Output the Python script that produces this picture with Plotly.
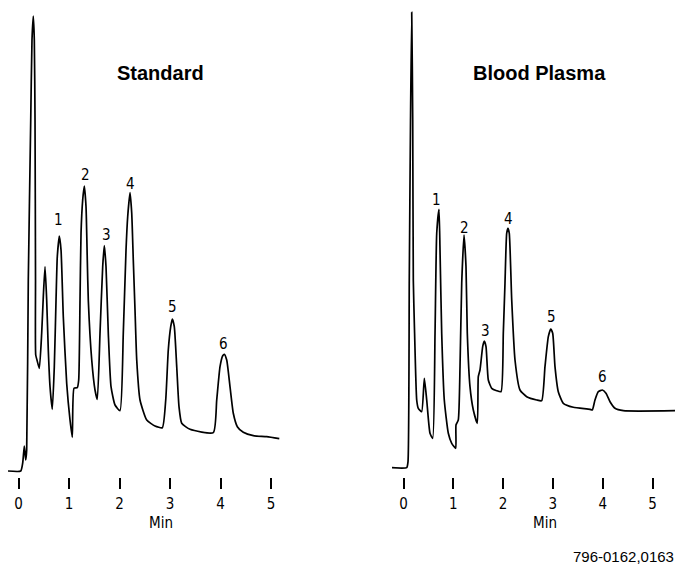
import plotly.graph_objects as go

# ---- data (time in min, detector signal in arbitrary units) ----
std_time = [-0.208, 0.044, 0.083, 0.115, 0.143, 0.162, 0.194, 0.242, 0.267, 0.293,
            0.313, 0.327, 0.337, 0.341, 0.366, 0.412, 0.459, 0.491, 0.525, 0.558,
            0.590, 0.624, 0.669, 0.709, 0.743, 0.768, 0.808, 0.842, 0.887, 0.954,
            1.020, 1.065, 1.099, 1.164, 1.192, 1.218, 1.238, 1.271, 1.303, 1.337,
            1.362, 1.382, 1.450, 1.515, 1.560, 1.614, 1.667, 1.699, 1.733, 1.778,
            1.832, 1.911, 2.010, 2.075, 2.129, 2.162, 2.208, 2.242, 2.273, 2.307,
            2.341, 2.406, 2.539, 2.703, 2.848, 2.915, 2.966, 3.014, 3.046, 3.085,
            3.133, 3.178, 3.232, 3.396, 3.857, 3.925, 3.990, 4.044, 4.075, 4.123,
            4.188, 4.253, 4.333, 4.451, 4.650, 4.915, 5.164]
std_signal = [0, 0, 8, 25, 11, 21, 191, 351, 431, 455,
              431, 351, 191, 116, 111, 102.7, 137.7, 174.3, 204.3, 171,
              121, 84.3, 61.7, 104.3, 171, 214.3, 235, 221, 154.3, 87.7,
              51, 33.7, 82.7, 83.3, 91, 171, 238, 271, 285, 264.3,
              211, 171, 111, 81, 71.7, 138, 204.3, 225.3, 204.3, 137.7,
              84.3, 66, 60.3, 137.7, 221, 254.3, 278.3, 257.7, 211, 161,
              111, 71, 51, 45, 43.3, 71, 121, 144.3, 152, 144.3,
              104.3, 64.3, 47.7, 41.7, 38.3, 71, 104.3, 115.3, 116.7, 111,
              84.3, 57.7, 44.3, 38.7, 35.3, 34.3, 32.3]

plasma_time = [-0.237, 0.064, 0.090, 0.116, 0.141, 0.165, 0.185, 0.197, 0.221, 0.265,
               0.297, 0.365, 0.418, 0.466, 0.532, 0.586, 0.633, 0.667, 0.713, 0.733,
               0.767, 0.819, 0.900, 0.968, 1.048, 1.054, 1.100, 1.135, 1.169, 1.215,
               1.255, 1.281, 1.335, 1.402, 1.482, 1.502, 1.536, 1.590, 1.622, 1.657,
               1.703, 1.771, 1.871, 1.958, 2.004, 2.038, 2.072, 2.098, 2.124, 2.173,
               2.239, 2.339, 2.474, 2.675, 2.775, 2.841, 2.908, 2.956, 2.996, 3.042,
               3.108, 3.209, 3.410, 3.745, 3.791, 3.845, 3.912, 3.992, 4.066, 4.147,
               4.247, 4.414, 5.452]
plasma_signal = [0, 0, 5.7, 187.7, 347.7, 455.4, 347.7, 187.7, 137.7, 67.7,
                 59.4, 56, 89.4, 67.7, 34.4, 29.4, 134.4, 234.4, 258.4, 217.7,
                 134.4, 67.7, 34.4, 24.4, 19.4, 42.7, 47.7, 101, 184.4, 232.7,
                 201, 134.4, 81, 57.7, 44.4, 91, 97.7, 121, 126.7, 121,
                 87.7, 79.4, 77, 76, 134.4, 184.4, 234.4, 239.4, 234.4, 167.7,
                 107.7, 77.7, 71, 67.7, 67, 101, 131, 138.7, 134.4, 101,
                 76, 64.4, 60.4, 58.4, 57.7, 67.7, 76, 77.7, 74.4, 66,
                 59.4, 57, 57]

peak_labels = ["1", "2", "3", "4", "5", "6"]
std_label_t = [0.788, 1.317, 1.733, 2.214, 3.053, 4.069]
std_label_s = [251, 296, 236, 287, 164.3, 127]
plasma_label_t = [0.667, 1.215, 1.637, 2.104, 2.968, 3.992]
plasma_label_s = [267.7, 240, 136.7, 248.4, 150.4, 90.4]

tick_vals = [0, 1, 2, 3, 4, 5]
tick_text = ["0", "1", "2", "3", "4", "5"]
panel_titles = ["Standard", "Blood Plasma"]
axis_title = "Min"
footer_text = "796-0162,0163"

W, H = 676, 566
narrow = "Liberation Sans Narrow, DejaVu Sans Condensed, Arial Narrow, sans-serif"
arial = "Liberation Sans, Arial, Helvetica, sans-serif"

fig = go.Figure()
line_style = dict(color="black", width=1.7, shape="spline", smoothing=0.5)
fig.add_trace(go.Scatter(x=std_time, y=std_signal, mode="lines", line=line_style,
                         xaxis="x", yaxis="y", hoverinfo="skip", showlegend=False))
fig.add_trace(go.Scatter(x=plasma_time, y=plasma_signal, mode="lines", line=line_style,
                         xaxis="x2", yaxis="y2", hoverinfo="skip", showlegend=False))

xcommon = dict(showgrid=False, zeroline=False, showline=False, ticks="outside",
               ticklen=11, tickwidth=1.5, tickcolor="black", tickvals=tick_vals,
               ticktext=tick_text, ticklabelstandoff=2,
               tickfont=dict(family=narrow, size=15, color="black"),
               fixedrange=True)
ycommon = dict(visible=False, showgrid=False, zeroline=False, fixedrange=True,
               domain=[1 - 477 / H, 1])

annotations = []
for lab, t, s in zip(peak_labels, std_label_t, std_label_s):
    annotations.append(dict(x=t, y=s, xref="x", yref="y", text=lab, showarrow=False,
                            xanchor="center", yanchor="middle",
                            font=dict(family=narrow, size=15, color="black")))
for lab, t, s in zip(peak_labels, plasma_label_t, plasma_label_s):
    annotations.append(dict(x=t, y=s, xref="x2", yref="y2", text=lab, showarrow=False,
                            xanchor="center", yanchor="middle",
                            font=dict(family=narrow, size=15, color="black")))
annotations.append(dict(x=160 / W, y=1 - 73 / H, xref="paper", yref="paper",
                        text="<b>%s</b>" % panel_titles[0], showarrow=False,
                        xanchor="center", yanchor="middle",
                        font=dict(family=arial, size=20, color="black")))
annotations.append(dict(x=539 / W, y=1 - 73 / H, xref="paper", yref="paper",
                        text="<b>%s</b>" % panel_titles[1], showarrow=False,
                        xanchor="center", yanchor="middle",
                        font=dict(family=arial, size=20, color="black")))
annotations.append(dict(x=2.83, y=1 - 523 / H, xref="x", yref="paper", text=axis_title,
                        showarrow=False, xanchor="center", yanchor="middle",
                        font=dict(family=narrow, size=15, color="black")))
annotations.append(dict(x=2.84, y=1 - 523 / H, xref="x2", yref="paper", text=axis_title,
                        showarrow=False, xanchor="center", yanchor="middle",
                        font=dict(family=narrow, size=15, color="black")))
annotations.append(dict(x=1, y=1 - 556.7 / H, xref="paper", yref="paper",
                        text=footer_text, showarrow=False, xanchor="right",
                        yanchor="middle", font=dict(family=arial, size=15, color="black")))

fig.update_layout(
    width=W, height=H, margin=dict(l=0, r=0, t=0, b=0),
    paper_bgcolor="white", plot_bgcolor="white",
    xaxis=dict(domain=[8 / W, 290 / W], range=[-0.208, 5.376], anchor="y", **xcommon),
    xaxis2=dict(domain=[392 / W, 1], range=[-0.231, 5.472], anchor="y2", **xcommon),
    yaxis=dict(range=[-6, 471], anchor="x", **ycommon),
    yaxis2=dict(range=[-9.3, 467.7], anchor="x2", **ycommon),
    annotations=annotations,
)

fig.write_html("out.html")
